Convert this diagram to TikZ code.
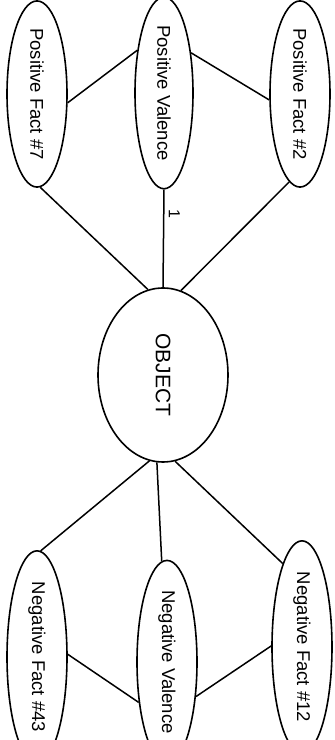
\documentclass[tikz,border=0pt]{standalone}
\usepackage{fontspec}
\setmainfont{Liberation Sans}
\usepackage{graphicx}
\usetikzlibrary{shapes.geometric}

\tikzset{
  ell/.style={draw, ellipse, line width=1.6pt, inner sep=0pt,
              minimum width=60pt, minimum height=160pt,
              font=\fontsize{18.5}{20}\selectfont},
  link/.style={line width=1.5pt},
}
\newcommand{\vtext}[1]{\rotatebox{-90}{#1}}

\begin{document}
\begin{tikzpicture}[x=1pt, y=1pt]
  \useasboundingbox (0,0) rectangle (335,740);
  \clip (0,0) rectangle (335,740);

  % positive side
  \node[ell, minimum height=162pt] (pf7) at (37,646) {\vtext{Positive Fact \#7}};
  \node[ell, minimum width=58pt, minimum height=160pt] (pv) at (164,647) {\vtext{Positive Valence}};
  \node[ell, minimum height=158pt] (pf2) at (300,646) {\vtext{Positive Fact \#2}};

  % central object
  \node[ell, minimum width=130pt, minimum height=174pt,
        font=\fontsize{21}{23}\selectfont] (obj) at (163,365) {\vtext{OBJECT}};

  % negative side
  \node[ell, minimum height=170pt] (nf43) at (37,83) {\vtext{Negative Fact \#43}};
  \node[ell, minimum height=168pt] (nv) at (167,78) {\vtext{Negative Valence}};
  \node[ell] (nf12) at (302,93) {\vtext{Negative Fact \#12}};

  % links among the positive nodes
  \draw[link] (pf7.-16) -- (pv.122);
  \draw[link] (pv.56) -- (pf2.191);
  \draw[link] (pf7.-88) -- (obj.100);
  \draw[link] (pv.south) -- node[pos=0.25, right=1pt, font=\fontsize{16}{17}\selectfont] (one) {\vtext{1}} (obj.north);
  \draw[link] (pf2.263) -- (obj.78);

  % links among the negative nodes
  \draw[link] (obj.261) -- (nf43.88);
  \draw[link] (obj.266) -- (nv.93);
  \draw[link] (obj.278) -- (nf12.103);
  \draw[link] (nf43.5) -- (nv.235);
  \draw[link] (nv.-50) -- (nf12.178);
\end{tikzpicture}
\end{document}
